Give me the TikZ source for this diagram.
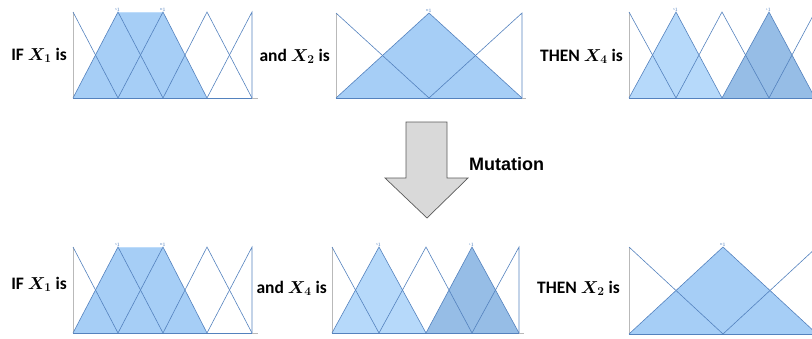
\documentclass[tikz,border=0pt]{standalone}
\usepackage{fontspec}
\setmainfont{Carlito}
\newfontfamily\arialfont{Liberation Sans}
\definecolor{mfline}{RGB}{84,130,190}
\definecolor{mffill}{RGB}{166,206,246}
\definecolor{mflight}{RGB}{182,217,250}
\definecolor{mfdark}{RGB}{150,189,230}
\definecolor{mfedge}{RGB}{190,220,250}
\definecolor{axisgray}{RGB}{185,185,185}
\definecolor{arrowfill}{RGB}{217,217,217}
\definecolor{arrowline}{RGB}{90,90,90}
\tikzset{
  mf/.style={draw=mfline, line width=0.6pt, line join=miter},
  axisline/.style={draw=axisgray, line width=0.8pt},
  lbl/.style={font=\fontsize{17.5}{20}\selectfont\bfseries\boldmath, inner sep=0pt, anchor=base east},
  tiny/.style={font=\fontsize{3}{3}\selectfont, text=mfline, inner sep=0pt, anchor=south},
}
\begin{document}
\begin{tikzpicture}[x=1pt,y=-1pt]
\useasboundingbox (0,0) rectangle (812,338);
\clip (0,0) rectangle (812,338);

% ---------- Panel 1 and 4: X1 (five sets, S1..M1 filled) ----------
\foreach \dy in {0,235}{
\begin{scope}[shift={(0,\dy)}]
  \fill[mffill] (73,98) -- (118,12) -- (163,12) -- (207,98) -- cycle;
  \draw[mfedge, line width=0.8pt] (118,12) -- (163,12);
  \draw[axisline] (73,12) -- (73,98) -- (258,98);
  \draw[mf] (73,12) -- (118,98);
  \draw[mf] (73,98) -- (118,12) -- (163,98);
  \draw[mf] (118,98) -- (163,12) -- (207,98);
  \draw[mf] (163,98) -- (207,12) -- (252,98);
  \draw[mf] (207,98) -- (252,12) -- (252,98);
  \draw[mf] (73,98) -- (252,98);
\end{scope}}
\node[tiny] (s1a) at (118,12) {S$_1$};
\node[tiny] (m1a) at (163,12) {M$_1$};
\node[tiny] (s1d) at (118,247) {S$_1$};
\node[tiny] (m1d) at (163,247) {M$_1$};

% ---------- Panel 2: X2 top ----------
\fill[mffill] (336,98) -- (429,13) -- (522,98) -- cycle;
\draw[axisline] (336,13) -- (336,98) -- (526,98);
\draw[mf] (336,13) -- (429,98);
\draw[mf] (336,98) -- (429,13) -- (522,98);
\draw[mf] (429,98) -- (522,13) -- (522,98);
\draw[mf] (336,98) -- (522,98);
\node[tiny] (m1b) at (429,13) {M$_1$};

% ---------- Panel 3: X4 top ----------
\fill[mflight] (629,98) -- (676,12) -- (722,98) -- cycle;
\fill[mfdark] (722,98) -- (769,12) -- (815,98) -- cycle;
\draw[axisline] (629,12) -- (629,98) -- (815,98);
\draw[mf] (629,12) -- (676,98);
\draw[mf] (629,98) -- (676,12) -- (722,98);
\draw[mf] (676,98) -- (722,12) -- (769,98);
\draw[mf] (722,98) -- (769,12) -- (815,98);
\draw[mf] (769,98) -- (815,12);
\draw[mf] (629,98) -- (815,98);
\node[tiny] (s1c) at (676,12) {S$_1$};
\node[tiny] (l1c) at (769,12) {L$_1$};

% ---------- Panel 5: X4 bottom ----------
\fill[mflight] (332,333) -- (379,247) -- (426,333) -- cycle;
\fill[mfdark] (426,333) -- (472,247) -- (519,333) -- cycle;
\draw[axisline] (332,247) -- (332,333) -- (524,333);
\draw[mf] (332,247) -- (379,333);
\draw[mf] (332,333) -- (379,247) -- (426,333);
\draw[mf] (379,333) -- (426,247) -- (472,333);
\draw[mf] (426,333) -- (472,247) -- (519,333);
\draw[mf] (472,333) -- (519,247) -- (519,333);
\draw[mf] (332,333) -- (519,333);
\node[tiny] (s1e) at (379,247) {S$_1$};
\node[tiny] (l1e) at (472,247) {L$_1$};

% ---------- Panel 6: X2 bottom ----------
\fill[mffill] (629,334) -- (723,247) -- (817,334) -- cycle;
\draw[axisline] (629,247) -- (629,334) -- (817,334);
\draw[mf] (629,247) -- (723,334);
\draw[mf] (629,334) -- (723,247) -- (817,334);
\draw[mf] (723,334) -- (817,247);
\draw[mf] (629,334) -- (817,334);
\node[tiny] (m1f) at (723,247) {M$_1$};

% ---------- Labels ----------
\node[lbl] (t1) at (67,60) {IF $X_1$ is};
\node[lbl] (t2) at (330,61) {and $X_2$ is};
\node[lbl] (t3) at (623,61) {THEN $X_4$ is};
\node[lbl] (t4) at (67,289) {IF $X_1$ is};
\node[lbl] (t5) at (327,293) {and $X_4$ is};
\node[lbl] (t6) at (620,293) {THEN $X_2$ is};

% ---------- Mutation arrow ----------
\draw[fill=arrowfill, draw=arrowline, line width=0.7pt, line join=miter]
  (406,122) -- (447,122) -- (447,178) -- (468,178) -- (427,218)
  -- (385,178) -- (406,178) -- cycle;
\node[font=\arialfont\bfseries\fontsize{18}{20}\selectfont, inner sep=0pt, anchor=west] (mut) at (469,164) {Mutation};
\end{tikzpicture}
\end{document}
